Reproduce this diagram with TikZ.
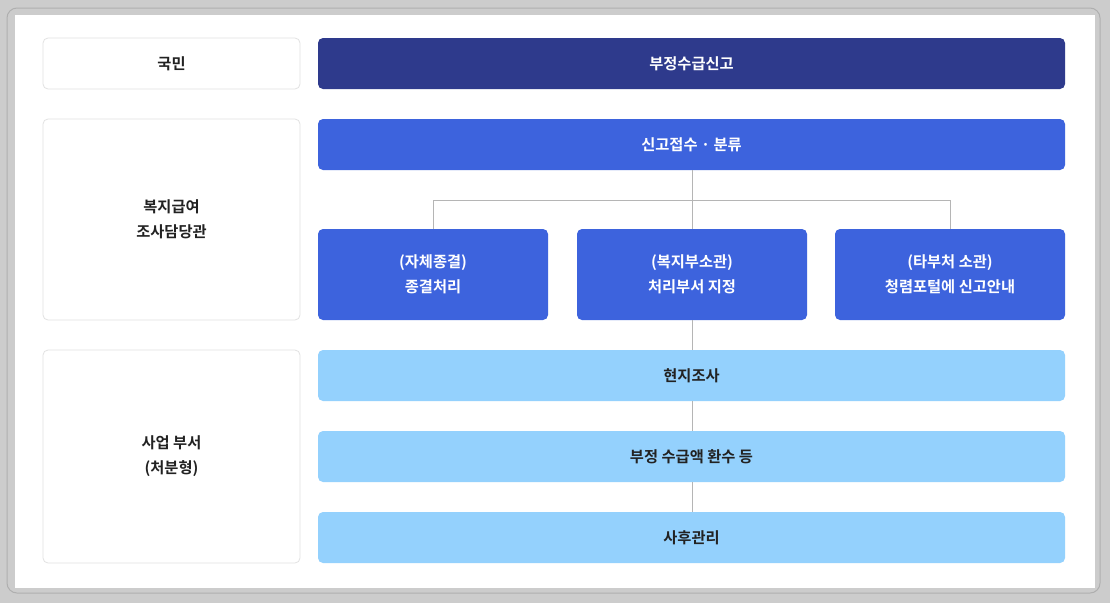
\documentclass[tikz,border=0pt]{standalone}
\usepackage{fontspec}
\newfontfamily\kr{Noto Sans CJK KR Bold}
\definecolor{navy}{HTML}{2E3A8C}
\definecolor{midblue}{HTML}{3D63DD}
\definecolor{lightblue}{HTML}{94D1FD}
\definecolor{frame}{HTML}{CCCCCC}
\definecolor{frameline}{HTML}{AFAFAF}
\definecolor{boxline}{HTML}{E2E2E2}
\definecolor{conn}{HTML}{B5B5B5}
\definecolor{txt}{HTML}{222222}
\tikzset{
  base/.style={rounded corners=5pt, align=center, font=\kr\fontsize{15.3}{25}\selectfont},
  rolebox/.style={base, draw=boxline, line width=0.8pt, fill=white, text=txt},
  darkbox/.style={base, fill=navy, text=white},
  bluebox/.style={base, fill=midblue, text=white},
  lightbox/.style={base, fill=lightblue, text=txt},
  link/.style={draw=conn, line width=0.8pt}
}
\begin{document}
\begin{tikzpicture}[x=1pt,y=-1pt]
\useasboundingbox (0,0) rectangle (1110,603);
\fill[frame] (0,0) rectangle (1110,603);
\draw[frameline, line width=1pt, rounded corners=10pt] (7,8) rectangle (1100,593);
\fill[white] (15,15) rectangle (1095,588);
% role boxes
\node[rolebox, minimum width=257pt, minimum height=51pt] (r1) at (171.5,63.5) {국민};
\node[rolebox, minimum width=257pt, minimum height=201pt] (r2) at (171.5,219.5) {복지급여\\조사담당관};
\node[rolebox, minimum width=257pt, minimum height=213pt] (r3) at (171.5,456.5) {사업 부서\\(처분형)};
% flow boxes
\node[darkbox, minimum width=747pt, minimum height=51pt] (a) at (691.5,63.5) {부정수급신고};
\node[bluebox, minimum width=747pt, minimum height=51pt] (b) at (691.5,144.5) {신고접수 · 분류};
\node[bluebox, minimum width=230pt, minimum height=91pt] (c1) at (433,274.5) {(자체종결)\\종결처리};
\node[bluebox, minimum width=230pt, minimum height=91pt] (c2) at (692,274.5) {(복지부소관)\\처리부서 지정};
\node[bluebox, minimum width=230pt, minimum height=91pt] (c3) at (950,274.5) {(타부처 소관)\\청렴포털에 신고안내};
\node[lightbox, minimum width=747pt, minimum height=51pt] (d) at (691.5,375.5) {현지조사};
\node[lightbox, minimum width=747pt, minimum height=51pt] (e) at (691.5,456.5) {부정 수급액 환수 등};
\node[lightbox, minimum width=747pt, minimum height=51pt] (f) at (691.5,537.5) {사후관리};
% connectors
\coordinate (j) at (692,200);
\draw[link] (b.south -| c2.north) -- (c2.north);
\draw[link] (j -| c1.north) -- (c1.north);
\draw[link] (j -| c1.north) -- (j -| c3.north) -- (c3.north);
\draw[link] (c2.south) -- (d.north -| c2.south);
\draw[link] (d.south -| c2.south) -- (e.north -| c2.south);
\draw[link] (e.south -| c2.south) -- (f.north -| c2.south);
\end{tikzpicture}
\end{document}
